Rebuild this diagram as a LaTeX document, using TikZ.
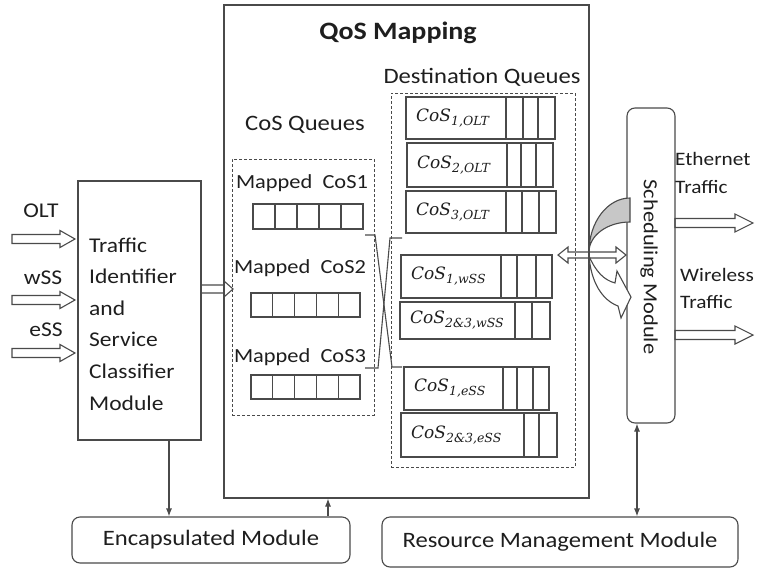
\documentclass[tikz,border=0pt]{standalone}
\usepackage{fontspec}
\setmainfont{Carlito}[FakeStretch=1.12]
\newfontfamily\dvs{DejaVu Serif}
\usetikzlibrary{arrows.meta}
\definecolor{ln}{HTML}{4A4A4A}
\definecolor{tx}{HTML}{1E1E1E}
\newcommand\barrow[6]{% x1 x2 y halfshaft halfhead headlen
  \draw[box] (#1,#3-#4) -- (#2-#6,#3-#4) -- (#2-#6,#3-#5) -- (#2,#3) -- (#2-#6,#3+#5) -- (#2-#6,#3+#4) -- (#1,#3+#4) -- cycle;}
\newcommand\dbarrow[6]{% x1 x2 y halfshaft halfhead headlen
  \draw[box] (#1,#3) -- (#1+#6,#3-#5) -- (#1+#6,#3-#4) -- (#2-#6,#3-#4) -- (#2-#6,#3-#5) -- (#2,#3) -- (#2-#6,#3+#5) -- (#2-#6,#3+#4) -- (#1+#6,#3+#4) -- (#1+#6,#3+#5) -- cycle;}
\newcommand\cosl[1]{{\dvs\itshape\fontsize{17}{20}\selectfont CoS\raisebox{-4pt}{\fontsize{12.5}{13}\selectfont #1}}}
\newcommand\dq[7]{% name x1 y1 x2 y2 cells label
  \draw[box] (#2,#3) rectangle (#4,#5);
  \foreach \c in {#6} \draw[box] (\c,#3) -- (\c,#5);
  \node[txt, anchor=west] (#1) at ({#2+10},{(#3+#5)/2}) {\cosl{#7}};}
\begin{document}
\begin{tikzpicture}[x=1pt,y=-1pt,
  box/.style={draw=ln, line width=1.1pt, inner sep=0pt},
  rbox/.style={box, rounded corners=8pt},
  dbox/.style={draw=ln, line width=1pt, dash pattern=on 3pt off 2pt, inner sep=0pt},
  txt/.style={font=\fontsize{21}{25}\selectfont, text=tx, inner sep=0pt},
  cell/.style={box, minimum width=22pt, minimum height=25pt},
  conn/.style={draw=ln, line width=1.1pt, -{Latex[length=8pt,width=6pt]}},
  dconn/.style={draw=ln, line width=1.1pt, {Latex[length=8pt,width=6pt]}-{Latex[length=8pt,width=6pt]}},
  xline/.style={draw=ln, line width=1.1pt}]
\useasboundingbox (0,0) rectangle (757,570);

% Traffic identifier
\node[box, minimum width=123pt, minimum height=259pt] (tic) at (139.5,310.5) {};
\node[txt, anchor=west, align=left, font=\fontsize{21}{31.6}\selectfont] (ticl) at (89,324) {Traffic\\Identifier\\and\\Service\\Classifier\\Module};

% inputs
\node[txt] (olt) at (41,211) {OLT};
\node[txt] (wss) at (43,278) {wSS};
\node[txt] (ess) at (46,330) {eSS};
\barrow{12}{75}{239}{4.5}{8.5}{15}
\barrow{12}{75}{300}{4.5}{8.5}{15}
\barrow{12}{75}{353}{4.5}{8.5}{15}

% QoS mapping
\node[box, minimum width=365pt, minimum height=493pt] (qos) at (406.5,251.5) {};
\node[txt, font=\bfseries\fontsize{25}{29}\selectfont] (qost) at (398,33) {QoS Mapping};
\node[txt, font=\fontsize{22}{26}\selectfont] (dql) at (482,77) {Destination Queues};
\node[txt, font=\fontsize{22}{26}\selectfont] (cql) at (305,125) {CoS Queues};
\node[dbox, minimum width=142pt, minimum height=256pt] (cosb) at (303,287) {};
\node[dbox, minimum width=184pt, minimum height=374pt] (destb) at (483,280) {};

\barrow{201}{233}{289}{4}{8}{9}

\node[txt, font=\fontsize{20}{24}\selectfont] (m1) at (302,183) {Mapped\ \ CoS1};
\node[txt, font=\fontsize{20}{24}\selectfont] (m2) at (300,268) {Mapped\ \ CoS2};
\node[txt, font=\fontsize{20}{24}\selectfont] (m3) at (300,357) {Mapped\ \ CoS3};
\foreach \i in {0,...,4} {
  \node[cell] (qa\i) at ({264+22*\i},216.5) {};
  \node[cell, minimum width=21.8pt, minimum height=24pt] (qb\i) at ({261.9+21.8*\i},305) {};
  \node[cell, minimum width=21.8pt, minimum height=24pt] (qc\i) at ({261.9+21.8*\i},387) {};
}

% destination queues
\dq{d1}{406}{97}{555}{139}{506,523,538}{1,OLT}
\dq{d2}{407}{143}{553}{187}{507,521,536}{2,OLT}
\dq{d3}{406}{191}{556}{233}{506,522,539}{3,OLT}
\dq{d4}{401}{255}{552}{298}{501,517,536}{1,wSS}
\dq{d5}{400}{302}{550}{339}{515,532}{2\&3,wSS}
\dq{d6}{404}{367}{549}{410}{503,517,533}{1,eSS}
\dq{d7}{401}{413}{557}{457}{524,539}{2\&3,eSS}

% crossing lines
\coordinate (xa1) at (365,235); \coordinate (xa2) at (375,235);
\coordinate (xa3) at (392,367); \coordinate (xa4) at (402,367);
\coordinate (xb1) at (402,238); \coordinate (xb2) at (390,238);
\coordinate (xb3) at (378,368); \coordinate (xb4) at (365,368);
\draw[xline] (xa1) -- (xa2) -- (xa3) -- (xa4);
\draw[xline] (xb1) -- (xb2) -- (xb3) -- (xb4);

% scheduling module
\node[rbox, minimum width=48pt, minimum height=315pt] (sch) at (651,265.5) {};
\node[txt, rotate=-90, font=\fontsize{20}{24}\selectfont] (schl) at (649,267) {Scheduling Module};

% curved shapes
\draw[box, fill=black!22] (630,198) .. controls (607.4,198) and (589,222.2) .. (589,252)
  .. controls (589,235.4) and (607.4,222) .. (630,222) -- cycle;
\draw[box, fill=white] (589,256) .. controls (596,272) and (604,280) .. (615,283) -- (617,271) -- (631,297) -- (621,318) -- (618,306) .. controls (602,300) and (591,282) .. (589,256) -- cycle;
\dbarrow{558}{626}{255}{3}{8}{10}

% outputs
\node[txt, anchor=west, align=left, font=\fontsize{19}{28}\selectfont] (eth) at (675,173) {Ethernet\\Traffic};
\node[txt, anchor=west, align=left, font=\fontsize{19}{27}\selectfont] (wir) at (680,288.5) {Wireless\\Traffic};
\barrow{675}{753}{223}{4.5}{9}{18}
\barrow{675}{753}{335}{4.5}{9}{18}

% bottom modules
\node[rbox, minimum width=278pt, minimum height=46pt, font=\fontsize{22}{26}\selectfont, text=tx] (enc) at (211,540) {Encapsulated Module};
\node[rbox, minimum width=356pt, minimum height=50pt, font=\fontsize{22}{26}\selectfont, text=tx] (res) at (560,542) {Resource Management Module};

\coordinate (c1) at (169,0);
\coordinate (c2) at (328,0);
\coordinate (c3) at (637,0);
\draw[conn] (tic.south -| c1) -- (enc.north -| c1);
\draw[conn] (enc.north -| c2) -- (qos.south -| c2);
\draw[dconn] (sch.south -| c3) -- (res.north -| c3);
\end{tikzpicture}
\end{document}
